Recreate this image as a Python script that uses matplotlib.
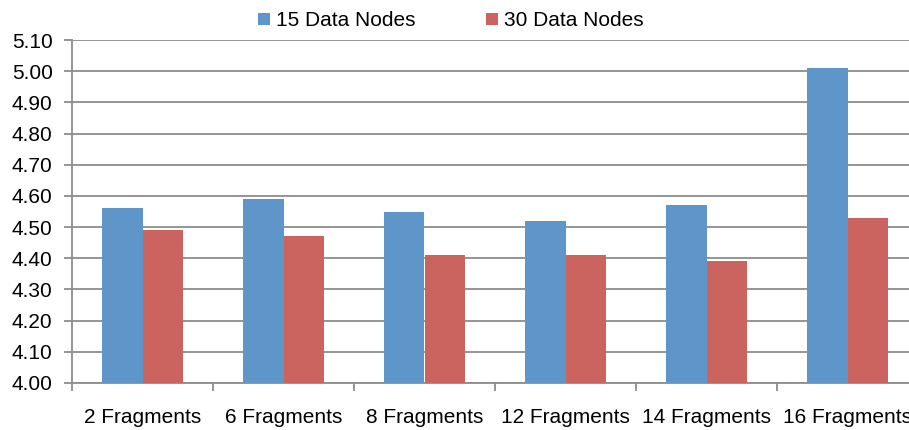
import numpy as np
import matplotlib.pyplot as plt
from matplotlib.ticker import FixedLocator, FormatStrFormatter

categories = ["2 Fragments", "6 Fragments", "8 Fragments", "12 Fragments", "14 Fragments", "16 Fragments"]
nodes15 = [4.56, 4.59, 4.55, 4.52, 4.57, 5.01]
nodes30 = [4.49, 4.47, 4.41, 4.41, 4.39, 4.53]
series_names = ["15 Data Nodes", "30 Data Nodes"]

blue = "#5f96c9"
red = "#cb645e"
grey = "#8c8c8c"

plt.rcParams['font.family'] = ['Liberation Sans', 'DejaVu Sans']

fig = plt.figure(figsize=(9.09, 4.30), dpi=100)
ax = fig.add_axes([72 / 909, 47 / 430, 846 / 909, 343 / 430])

x = np.arange(len(categories))
w = 0.285
ax.bar(x - w / 2, np.array(nodes15) - 4.0, w, bottom=4.0, color=blue, label=series_names[0], zorder=3)
ax.bar(x + w / 2, np.array(nodes30) - 4.0, w, bottom=4.0, color=red, label=series_names[1], zorder=3)

ax.set_xlim(-0.5, len(categories) - 0.5)
ax.set_ylim(4.0, 5.1)
ax.set_yticks(np.arange(4.0, 5.101, 0.1))
ax.yaxis.set_major_formatter(FormatStrFormatter('%.2f'))

ax.xaxis.set_major_locator(FixedLocator(np.arange(-0.5, len(categories), 1.0)))
ax.xaxis.set_minor_locator(FixedLocator(x))
ax.set_xticklabels([], minor=False)
ax.set_xticklabels(categories, minor=True)
ax.tick_params(axis='x', which='major', length=6, width=1.3, color=grey, direction='out')
ax.tick_params(axis='x', which='minor', length=0, pad=18, labelsize=15)
ax.tick_params(axis='y', length=6, width=1.3, color=grey, labelsize=15, pad=8)

ax.grid(axis='y', color=grey, linewidth=1.3, zorder=0)
for side in ['top', 'right']:
    ax.spines[side].set_visible(False)
for side in ['left', 'bottom']:
    ax.spines[side].set_color(grey)
    ax.spines[side].set_linewidth(1.3)

fig.legend(loc='center', bbox_to_anchor=(451 / 909, 1 - 21 / 430), ncol=2, frameon=False,
           fontsize=15, handlelength=0.55, handleheight=0.55, handletextpad=0.3, columnspacing=3.4,
           borderaxespad=0)

fig.savefig("out.png", dpi=100)
